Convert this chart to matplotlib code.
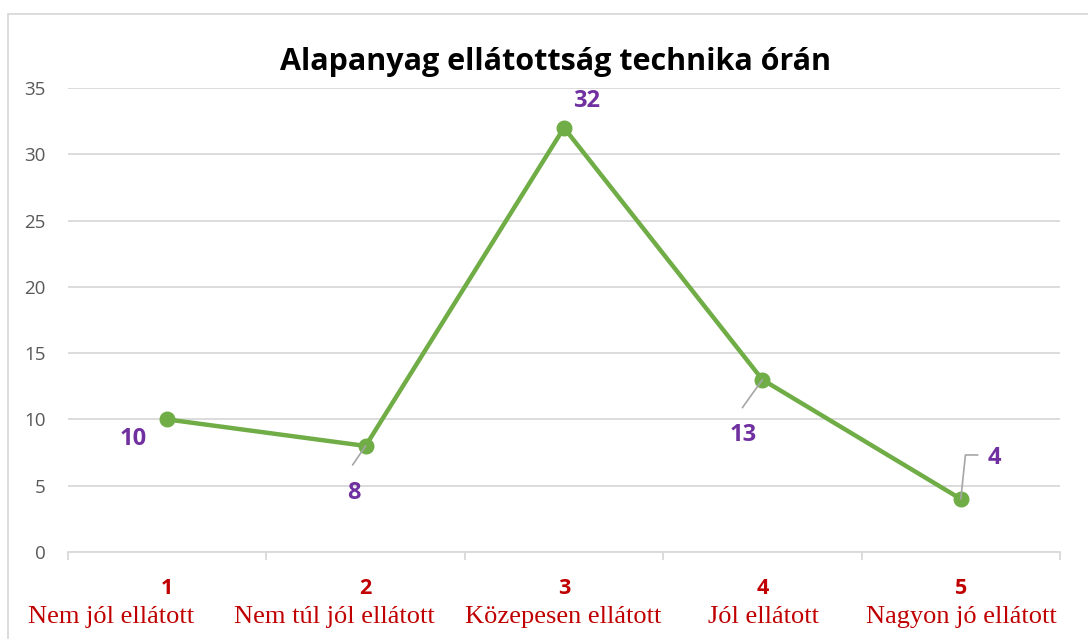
import matplotlib
matplotlib.use('Agg')
from matplotlib import pyplot as plt
from matplotlib.patches import Rectangle
from matplotlib.transforms import offset_copy

# data
numbers = ['1', '2', '3', '4', '5']
categories = ['Nem jól ellátott', 'Nem túl jól ellátott', 'Közepesen ellátott',
              'Jól ellátott', 'Nagyon jó ellátott']
values = [10, 8, 32, 13, 4]
title = 'Alapanyag ellátottság technika órán'

green = '#70AD47'
purple = '#7030A0'
red = '#C00000'
grid = '#D9D9D9'
leader_col = '#A6A6A6'

fig = plt.figure(figsize=(10.88, 6.39), dpi=100)
ax = fig.add_axes([68 / 1088, 1 - 552 / 639, 992 / 1088, 464 / 639])

x = list(range(len(values)))
ax.plot(x, values, color=green, lw=3.2, marker='o', markersize=10.5,
        solid_capstyle='round', zorder=3)

ax.set_xlim(-0.5, len(values) - 0.5)
ax.set_ylim(0, 35)
ax.set_yticks(range(0, 36, 5))
ax.yaxis.grid(True, color=grid, lw=1.3)
ax.set_axisbelow(True)
for s in ['top', 'right', 'left']:
    ax.spines[s].set_visible(False)
ax.spines['bottom'].set_color(grid)
ax.spines['bottom'].set_linewidth(1.3)
ax.tick_params(axis='y', length=0, pad=16, labelsize=13.5, labelcolor='#595959')
for lab in ax.get_yticklabels():
    lab.set_family('Open Sans')
ax.set_xticks(x)
ax.set_xticklabels([])
ax.tick_params(axis='x', which='major', length=0)
ax.set_xticks([i - 0.5 for i in range(len(values) + 1)], minor=True)
ax.tick_params(axis='x', which='minor', length=6, width=1.3, color=grid)

# category labels; the long names sit a bit left of their slot
name_shift = [-56, -31, -1, 1, 1]
tr = ax.get_xaxis_transform()
for i, (n, c) in enumerate(zip(numbers, categories)):
    ax.text(i, -0.078, n, transform=tr, ha='center', va='center',
            fontsize=15.5, fontweight='bold', color=red, family='Open Sans')
    ax.text(i, -0.14, c, ha='center', va='center',
            transform=offset_copy(tr, fig=fig, x=name_shift[i], units='dots'),
            fontsize=19, color=red, family='Liberation Serif')

# data labels (offsets in pixels)
offsets = [(-34, -20), (-12, -47), (23, 27), (-19, -55), (34, 41)]
for i, (v, off) in enumerate(zip(values, offsets)):
    ax.annotate(str(v), (i, v), xytext=off, textcoords='offset pixels',
                ha='center', va='center', fontsize=17, fontweight='bold',
                color=purple, family='Open Sans')

# leader lines
ax.annotate('', (1, values[1]), xytext=(-13, -19), textcoords='offset pixels',
            arrowprops=dict(arrowstyle='-', color=leader_col, lw=1.2,
                            shrinkA=0, shrinkB=0))
ax.annotate('', (3, values[3]), xytext=(-20, -28), textcoords='offset pixels',
            arrowprops=dict(arrowstyle='-', color=leader_col, lw=1.2,
                            shrinkA=0, shrinkB=0))
ax.annotate('', (4, values[4]), xytext=(17, 44), textcoords='offset pixels',
            arrowprops=dict(arrowstyle='-', color=leader_col, lw=1.2,
                            connectionstyle='angle,angleA=0,angleB=84,rad=0',
                            shrinkA=0, shrinkB=0))

fig.text(556 / 1088, 1 - 62 / 639, title, ha='center', va='center',
         fontsize=22, fontweight='bold', color='black', family='Open Sans')

fig.add_artist(Rectangle((8 / 1088, -0.1), 1.1, 1 - 14 / 639 + 0.1,
                         transform=fig.transFigure, fill=False,
                         edgecolor=grid, lw=1.3))

fig.savefig('out.png', dpi=100)
